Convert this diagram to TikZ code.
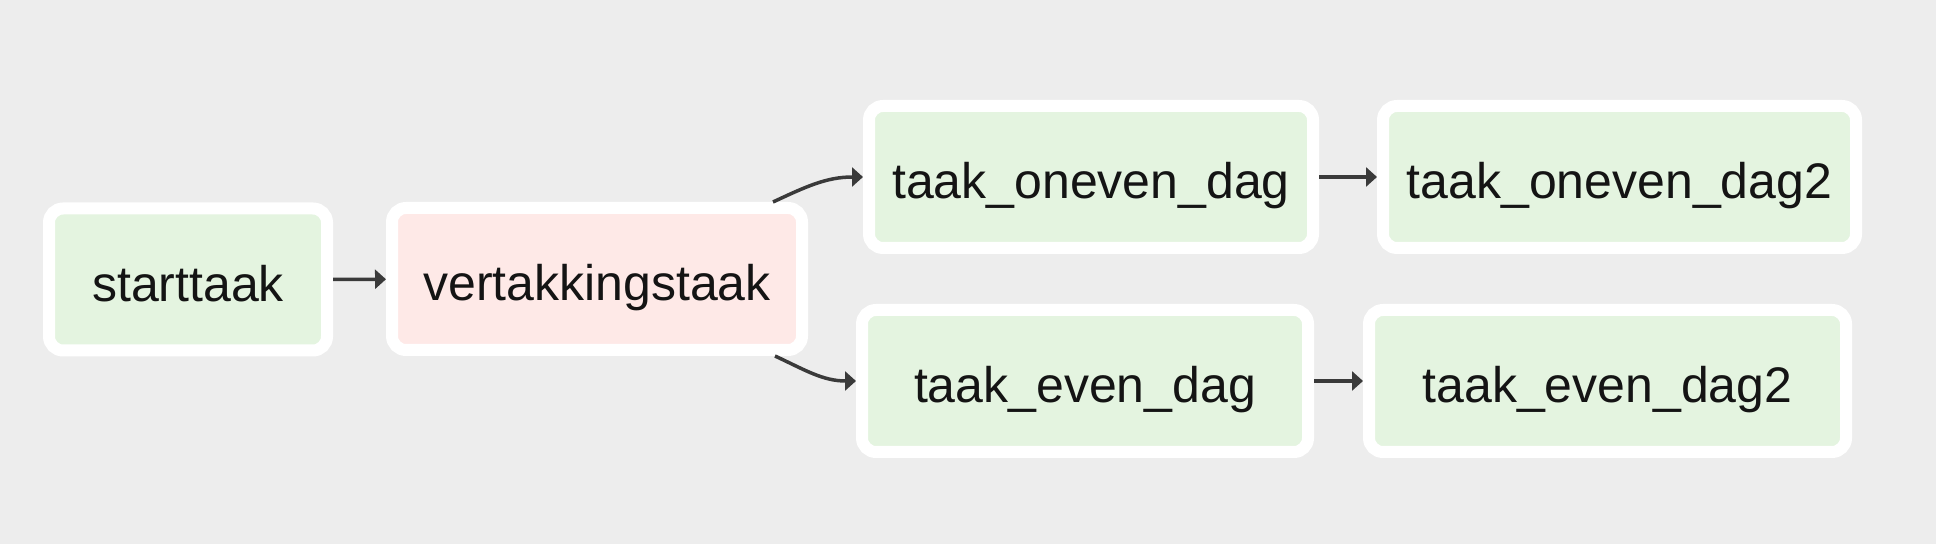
\documentclass[tikz,border=0pt]{standalone}
\usepackage{fontspec}
\setmainfont{Liberation Sans}
\usepackage{tikz}
\usepackage{xcolor}
\usetikzlibrary{arrows.meta}
\definecolor{bggray}{HTML}{EDEDED}
\definecolor{taskgreen}{HTML}{E4F4E0}
\definecolor{taskred}{HTML}{FEE9E7}
\definecolor{flowgray}{HTML}{3A3A3A}
\tikzset{
task/.style={
  rectangle,
  rounded corners=7pt,
  draw=white,
  line width=6pt,
  fill=taskgreen,
  minimum height=71pt,
  text height=22pt,
  text depth=0pt,
  font=\fontsize{25}{30}\selectfont,
  text=black!92
},
branchtask/.style={task,fill=taskred},
flow/.style={-{Triangle[length=5.5pt,width=9.5pt]},line width=1.75pt,draw=flowgray},
}

\begin{document}
\begin{tikzpicture}[x=0.5pt,y=-0.5pt]
% the background
\fill[bggray] (0,0) rectangle (1936,544);
% the task nodes
\node[task,minimum width=139pt] (start) at (188,279.5) {starttaak};
\node[branchtask,minimum width=205pt] (branch) at (597,279) {vertakkingstaak};
\node[task,minimum width=222pt] (odd) at (1091,177) {taak\_oneven\_dag};
\node[task,minimum width=236.5pt] (odd2) at (1619.5,177) {taak\_oneven\_dag2};
\node[task,minimum width=223pt] (even) at (1085,381) {taak\_even\_dag};
\node[task,minimum width=238.5pt] (even2) at (1607.5,381) {taak\_even\_dag2};
% the arrows
\begin{scope}[flow]
\draw (start) -- (branch);
\draw ([xshift=-17.5pt]branch.north east) to[out=25,in=180] (odd.west);
\draw ([xshift=-16.5pt]branch.south east) to[out=-25,in=180] (even.west);
\draw (odd) -- (odd2);
\draw (even) -- (even2);
\end{scope}
\end{tikzpicture}
\end{document}
